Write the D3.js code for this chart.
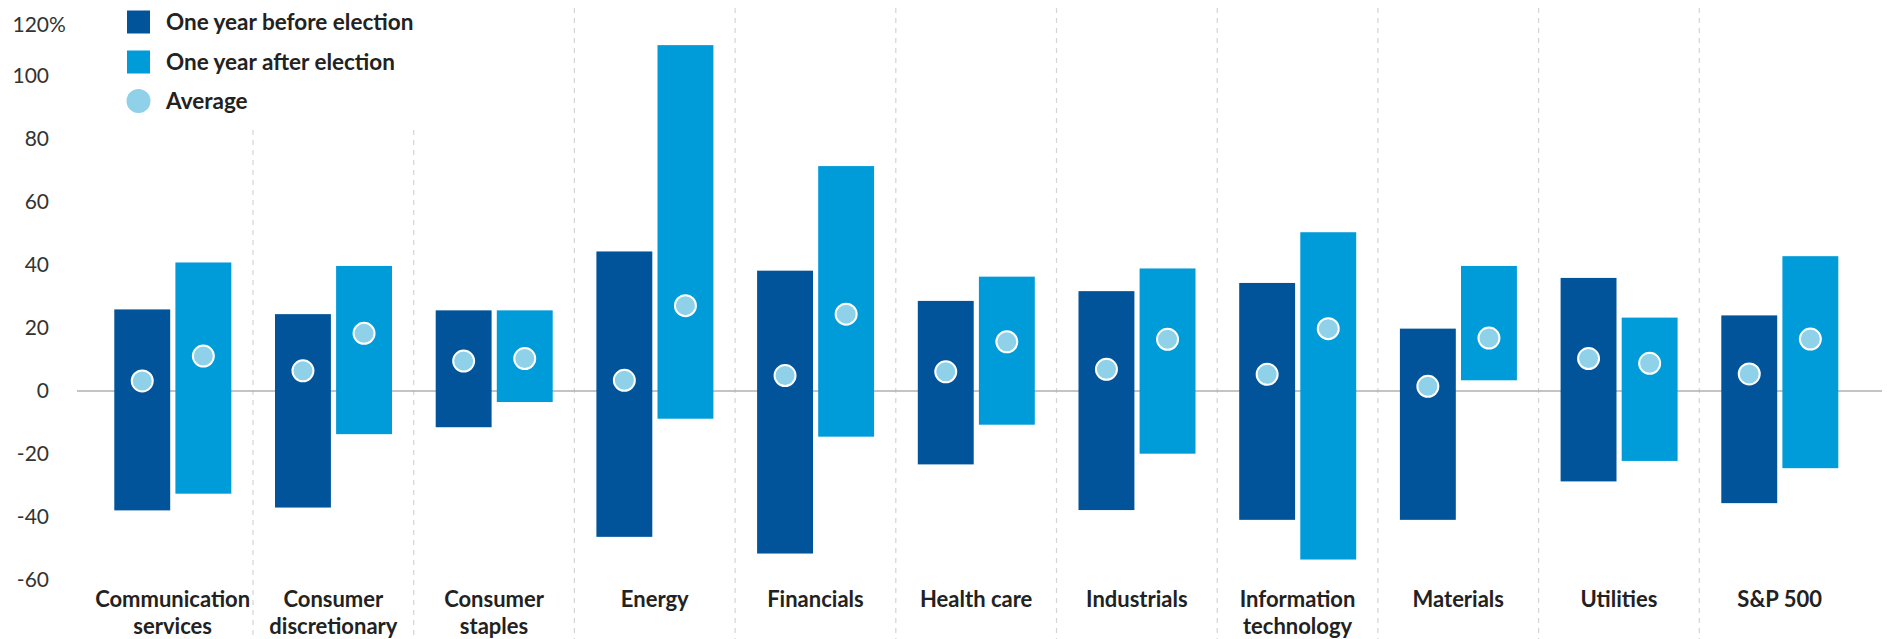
<!DOCTYPE html>
<html>
<head>
<meta charset="utf-8">
<script src="https://cdn.jsdelivr.net/npm/d3@7"></script>
<style>
  html, body { margin: 0; padding: 0; background: #fff; }
  svg { display: block; }
</style>
</head>
<body>
<div id="chart"></div>
<script>
// ── Data ────────────────────────────────────────────────────────────────────
const categories = [
  ["Communication", "services"], ["Consumer", "discretionary"], ["Consumer", "staples"],
  ["Energy"], ["Financials"], ["Health care"], ["Industrials"],
  ["Information", "technology"], ["Materials"], ["Utilities"], ["S&P 500"],
];
// one year before election: [low, high, average]
const beforeLow  = [-37.9, -37.0, -11.5, -46.3, -51.6, -23.3, -37.8, -40.9, -40.9, -28.7, -35.6];
const beforeHigh = [25.9, 24.4, 25.6, 44.3, 38.2, 28.6, 31.7, 34.3, 19.8, 35.9, 24.0];
const beforeAvg  = [3.2, 6.4, 9.5, 3.4, 4.9, 6.1, 6.9, 5.3, 1.5, 10.3, 5.4];
// one year after election
const afterLow   = [-32.6, -13.7, -3.5, -8.8, -14.5, -10.7, -19.9, -53.5, 3.4, -22.2, -24.5];
const afterHigh  = [40.8, 39.7, 25.6, 109.8, 71.4, 36.3, 38.9, 50.4, 39.7, 23.3, 42.8];
const afterAvg   = [11.1, 18.3, 10.3, 27.1, 24.4, 15.6, 16.4, 19.8, 16.8, 8.8, 16.5];

const yTicks = [-60, -40, -20, 0, 20, 40, 60, 80, 100, 120];
const seriesNames = ["One year before election", "One year after election", "Average"];

// ── Style ───────────────────────────────────────────────────────────────────
const W = 1887, H = 639;
const C_BEFORE = "#01539a", C_AFTER = "#009bd9", C_AVG = "#8ed1e8";
const FONT = "Lato, 'Noto Sans', sans-serif";

const svg = d3.select("#chart").append("svg")
  .attr("width", W).attr("height", H).attr("viewBox", `0 0 ${W} ${H}`);

const y = d3.scaleLinear().domain([0, 120]).range([391, 13]);
const x0 = d3.scaleBand().domain(d3.range(categories.length)).range([92.3, 1860]);
const x1 = d3.scaleBand().domain(["before", "after"]).range([22, 139]).paddingInner(0.085);

// ── Dividers ────────────────────────────────────────────────────────────────
svg.append("g").selectAll("line")
  .data(d3.range(1, categories.length))
  .join("line")
  .attr("x1", (i) => x0(i)).attr("x2", (i) => x0(i))
  .attr("y1", (i) => (i <= 2 ? 130 : 8)).attr("y2", H)
  .attr("stroke", "#d4d4d4").attr("stroke-width", 1.2).attr("stroke-dasharray", "5,5");

// ── Y labels ────────────────────────────────────────────────────────────────
const yl = svg.append("g").attr("font-family", FONT).attr("font-size", "21px").attr("fill", "#333");
yTicks.forEach((t) => {
  const ty = Math.max(y(t), 25);
  yl.append("text").attr("x", 49).attr("y", ty).attr("dy", "0.35em")
    .attr("text-anchor", "end").text(t);
  if (t === 120) yl.append("text").attr("x", 49).attr("y", ty).attr("dy", "0.35em").text("%");
});

// ── Zero line ───────────────────────────────────────────────────────────────
svg.append("line").attr("x1", 77).attr("x2", 1882).attr("y1", y(0)).attr("y2", y(0))
  .attr("stroke", "#b0b0b0").attr("stroke-width", 1.5);

// ── Bars + dots ─────────────────────────────────────────────────────────────
const rows = categories.map((c, i) => [
  { key: "before", i, lo: beforeLow[i], hi: beforeHigh[i], avg: beforeAvg[i], color: C_BEFORE },
  { key: "after",  i, lo: afterLow[i],  hi: afterHigh[i],  avg: afterAvg[i],  color: C_AFTER },
]).flat();

const g = svg.append("g");
g.selectAll("rect").data(rows).join("rect")
  .attr("x", (d) => x0(d.i) + x1(d.key)).attr("width", x1.bandwidth())
  .attr("y", (d) => y(d.hi)).attr("height", (d) => y(d.lo) - y(d.hi))
  .attr("fill", (d) => d.color);

g.selectAll("circle").data(rows).join("circle")
  .attr("cx", (d) => x0(d.i) + x1(d.key) + x1.bandwidth() / 2)
  .attr("cy", (d) => y(d.avg)).attr("r", 10.5)
  .attr("fill", C_AVG).attr("stroke", "#fff").attr("stroke-width", 2);

// ── Category labels ─────────────────────────────────────────────────────────
const xl = svg.append("g").attr("font-family", FONT).attr("font-size", "22px")
  .attr("font-weight", 700).attr("fill", "#222").attr("text-anchor", "middle");
categories.forEach((lines, i) => {
  const cx = x0(i) + x0.bandwidth() / 2;
  lines.forEach((s, k) => xl.append("text").attr("x", cx).attr("y", 607 + k * 27).text(s));
});

// ── Legend ──────────────────────────────────────────────────────────────────
const lg = svg.append("g").attr("font-family", FONT).attr("font-size", "22.5px")
  .attr("font-weight", 700).attr("fill", "#222");
const legY = [22, 62, 101];
lg.append("rect").attr("x", 127).attr("y", legY[0] - 11.5).attr("width", 23).attr("height", 23).attr("fill", C_BEFORE);
lg.append("rect").attr("x", 127).attr("y", legY[1] - 11.5).attr("width", 23).attr("height", 23).attr("fill", C_AFTER);
lg.append("circle").attr("cx", 138.5).attr("cy", legY[2]).attr("r", 12).attr("fill", C_AVG);
seriesNames.forEach((s, k) => {
  lg.append("text").attr("x", 166).attr("y", legY[k]).attr("dy", "0.35em").text(s);
});
</script>
</body>
</html>
